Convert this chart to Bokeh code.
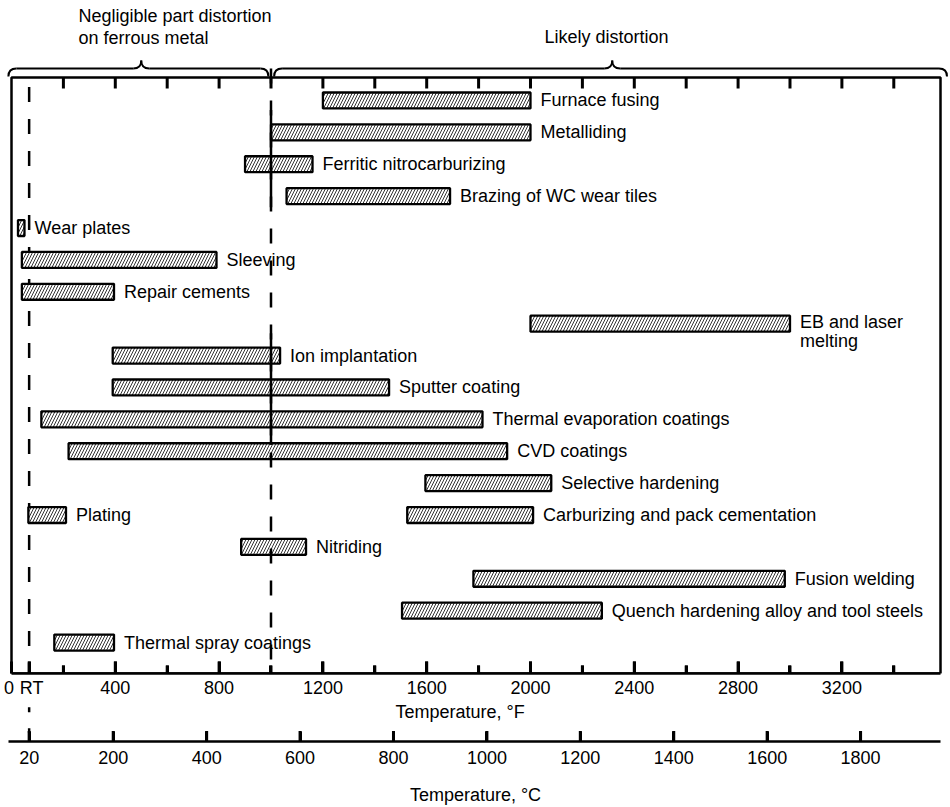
from bokeh.plotting import figure
from bokeh.layouts import column
from bokeh.models import Range1d, LinearAxis, FixedTicker, ColumnDataSource
from bokeh.core.properties import value
from bokeh.embed import file_html
from bokeh.resources import INLINE

# ---------------- data ----------------
processes = [
    "Furnace fusing", "Metalliding", "Ferritic nitrocarburizing",
    "Brazing of WC wear tiles", "Wear plates", "Sleeving", "Repair cements",
    "EB and laser\nmelting", "Ion implantation", "Sputter coating",
    "Thermal evaporation coatings", "CVD coatings", "Selective hardening",
    "Plating", "Carburizing and pack cementation", "Nitriding",
    "Fusion welding", "Quench hardening alloy and tool steels",
    "Thermal spray coatings",
]
rows = [0, 1, 2, 3, 4, 5, 6, 7, 8, 9, 10, 11, 12, 13, 13, 14, 15, 16, 17]
temp_low_F = [1200, 1000, 900, 1060, 25, 40, 40, 2000, 390, 390, 115, 220,
              1595, 65, 1525, 885, 1780, 1505, 165]
temp_high_F = [2000, 2000, 1160, 1690, 50, 790, 395, 3000, 1035, 1455, 1815,
               1910, 2080, 210, 2010, 1135, 2980, 2275, 395]

f_ticks = [0, 400, 800, 1200, 1600, 2000, 2400, 2800, 3200]
f_minor_ticks = [200, 600, 1000, 1400, 1800, 2200, 2600, 3000, 3400]
top_ticks = [200, 400, 600, 800, 1000, 1200, 1400, 1600, 1800, 2000, 2200,
             2400, 2600, 2800, 3000, 3200, 3400]
c_ticks = [20, 200, 400, 600, 800, 1000, 1200, 1400, 1600, 1800]
rt_F = 68          # room temperature (20 C)
boundary_F = 1000  # distortion boundary
solid_spans = [(0.3, 3.35), (7.3, 10.8)]  # row spans where boundary line is solid

region_text = ["Negligible part distortion", "on ferrous metal", "Likely distortion"]
braces = [(-12, 500, 990), (1012, 2315, 3605)]  # (start, tip, end) in F

FONT = "Liberation Sans"
FS = "18px"
NBSP = "\u00a0"

# ---------------- geometry ----------------
W = 950
box_left_px, box_right_px, box_top_px, box_bottom_px = 11, 940, 77, 673
x_lo, x_hi = 0, 3580                 # temperature span of the chart box
y_bottom, y_top = 17.97, -0.72       # row span of the chart box
k = (box_right_px - box_left_px) / (x_hi - x_lo)
row_px = (box_bottom_px - box_top_px) / (y_bottom - y_top)


def prow(px):
    """screen y (px from page top) -> row units"""
    return y_top + (px - box_top_px) / row_px


xr = Range1d(x_lo - box_left_px / k, x_hi + (W - box_right_px) / k)
half_w = 1.5 / k  # half tick width in F

# ---------------- main chart (incl. braces above the box) ----------------
p = figure(width=W, height=box_bottom_px + 27, x_range=xr,
           y_range=Range1d(y_bottom, prow(0)), output_backend="svg",
           toolbar_location=None, x_axis_location=None, y_axis_location=None,
           min_border_left=0, min_border_right=0, min_border_top=0,
           min_border_bottom=27, outline_line_color=None)
p.xgrid.visible = False
p.ygrid.visible = False

ax_f = LinearAxis(ticker=FixedTicker(ticks=f_ticks + [rt_F], minor_ticks=f_minor_ticks))
ax_f.bounds = (x_lo, x_hi)
ax_f.major_label_overrides = {0: "0" + NBSP, rt_F: NBSP + "RT"}
ax_f.axis_line_color = "black"
ax_f.axis_line_width = 2.5
ax_f.major_tick_in = 12
ax_f.major_tick_out = 0
ax_f.minor_tick_in = 8
ax_f.minor_tick_out = 0
ax_f.major_tick_line_width = 3
ax_f.minor_tick_line_width = 3
ax_f.major_tick_line_color = "black"
ax_f.minor_tick_line_color = "black"
ax_f.major_label_standoff = 4
ax_f.major_label_text_font = FONT
ax_f.major_label_text_font_size = FS
ax_f.major_label_text_color = "black"
p.add_layout(ax_f, "below")

# chart box
p.quad(left=[x_lo], right=[x_hi], top=[y_top], bottom=[y_bottom],
       fill_color=None, line_color="black", line_width=2.5)

# tick marks pointing into the box, drawn as thin bars from the tick lists
top_len = 11 / row_px
maj_len = 12 / row_px
min_len = 8 / row_px
bottom_major = f_ticks[1:] + [rt_F]
p.hbar(y=[y_top + top_len / 2] * len(top_ticks),
       left=[t - half_w for t in top_ticks], right=[t + half_w for t in top_ticks],
       height=top_len, fill_color="black", line_color=None)
p.hbar(y=[y_bottom - maj_len / 2] * len(bottom_major),
       left=[t - half_w for t in bottom_major], right=[t + half_w for t in bottom_major],
       height=maj_len, fill_color="black", line_color=None)
p.hbar(y=[y_bottom - min_len / 2] * len(f_minor_ticks),
       left=[t - half_w for t in f_minor_ticks], right=[t + half_w for t in f_minor_ticks],
       height=min_len, fill_color="black", line_color=None)

# braces over the two regions
r = 8 / k
yl, yt, ye = prow(68), prow(60), prow(76)
for (xa, xm, xb) in braces:
    p.quadratic(x0=[xa, xm - r, xm, xb - r], y0=[ye, yl, yt, yl],
                x1=[xa + r, xm, xm + r, xb], y1=[yl, yt, yl, ye],
                cx=[xa, xm, xm, xb], cy=[yl, yl, yl, yl],
                line_color="black", line_width=2)
    p.segment(x0=[xa + r, xm + r], y0=[yl, yl], x1=[xm - r, xb - r], y1=[yl, yl],
              line_color="black", line_width=2)
p.text(x=[(78 - 11) / k, (78 - 11) / k, (544 - 11) / k],
       y=[prow(15), prow(37), prow(36)],
       text=region_text, text_align="left", text_baseline="middle",
       text_font=value(FONT), text_font_size=FS, text_color="black")

# room-temperature dashed line (under bars)
p.segment(x0=[rt_F], y0=[y_top + 0.3], x1=[rt_F], y1=[y_bottom],
          line_color="black", line_width=2.5, line_dash="15 17")

src = ColumnDataSource(dict(row=rows, lo=temp_low_F, hi=temp_high_F, label=processes))
p.hbar(y="row", left="lo", right="hi", height=0.5, source=src,
       fill_color="white", line_color="black", line_width=2.3,
       hatch_pattern="/", hatch_color="black", hatch_weight=0.8, hatch_scale=6)

# boundary line at 1000 F (over bars), starting at the brace junction
p.segment(x0=[boundary_F], y0=[yl], x1=[boundary_F], y1=[y_bottom],
          line_color="black", line_width=2.5, line_dash="15 17")
p.segment(x0=[boundary_F] * len(solid_spans), y0=[s[0] for s in solid_spans],
          x1=[boundary_F] * len(solid_spans), y1=[s[1] for s in solid_spans],
          line_color="black", line_width=2.5)

single = [i for i, t in enumerate(processes) if "\n" not in t]
multi = [i for i, t in enumerate(processes) if "\n" in t]
src1 = ColumnDataSource(dict(row=[rows[i] for i in single], hi=[temp_high_F[i] for i in single],
                             label=[processes[i] for i in single]))
src2 = ColumnDataSource(dict(row=[rows[i] - 0.25 for i in multi], hi=[temp_high_F[i] for i in multi],
                             label=[processes[i] for i in multi]))
p.text(x="hi", y="row", text="label", source=src1, x_offset=10,
       text_align="left", text_baseline="middle", text_font=value(FONT),
       text_font_size=FS, text_color="black")
p.text(x="hi", y="row", text="label", source=src2, x_offset=10, y_offset=-4,
       text_align="left", text_baseline="top", text_font=value(FONT),
       text_font_size=FS, text_color="black", text_line_height=0.95)

# ---------------- bottom (Celsius axis) ----------------
bot_h = 807 - (box_bottom_px + 27)
bot = figure(width=W, height=bot_h, x_range=xr, y_range=Range1d(43, 0),
             output_backend="svg", toolbar_location=None, x_axis_location=None,
             y_axis_location=None, min_border_left=0, min_border_right=0,
             min_border_top=0, min_border_bottom=bot_h - 43, outline_line_color=None)
bot.xgrid.visible = False
bot.ygrid.visible = False
bot.extra_x_ranges = {"C": Range1d((xr.start - 32) / 1.8, (xr.end - 32) / 1.8)}
ax_c = LinearAxis(x_range_name="C", ticker=FixedTicker(ticks=c_ticks, minor_ticks=[]),
                  axis_label="Temperature, °C")
ax_c.bounds = ((x_lo - 12 - 32) / 1.8, (x_hi - 32) / 1.8)
ax_c.axis_line_color = "black"
ax_c.axis_line_width = 2.5
ax_c.major_tick_in = 10
ax_c.major_tick_out = 0
ax_c.minor_tick_in = 0
ax_c.minor_tick_out = 0
ax_c.major_tick_line_width = 3
ax_c.major_tick_line_color = "black"
ax_c.major_label_standoff = 9
ax_c.major_label_text_font = FONT
ax_c.major_label_text_font_size = FS
ax_c.major_label_text_color = "black"
ax_c.axis_label_standoff = 18
ax_c.axis_label_text_font = FONT
ax_c.axis_label_text_font_size = FS
ax_c.axis_label_text_font_style = "normal"
ax_c.axis_label_text_color = "black"
bot.add_layout(ax_c, "below")

c_ticks_in_F = [c * 1.8 + 32 for c in c_ticks]
bot.hbar(y=[37.5] * len(c_ticks_in_F), left=[t - half_w for t in c_ticks_in_F],
         right=[t + half_w for t in c_ticks_in_F], height=11,
         fill_color="black", line_color=None)
bot.segment(x0=[rt_F], y0=[7], x1=[rt_F], y1=[43], line_color="black",
            line_width=2.5, line_dash="5 16")
bot.text(x=[(395 - 11) / k], y=[12], text=["Temperature, °F"], text_align="left",
         text_baseline="middle", text_font=value(FONT), text_font_size=FS,
         text_color="black")

layout = column(p, bot, spacing=0)
open("out.html", "w").write(file_html(layout, INLINE))
